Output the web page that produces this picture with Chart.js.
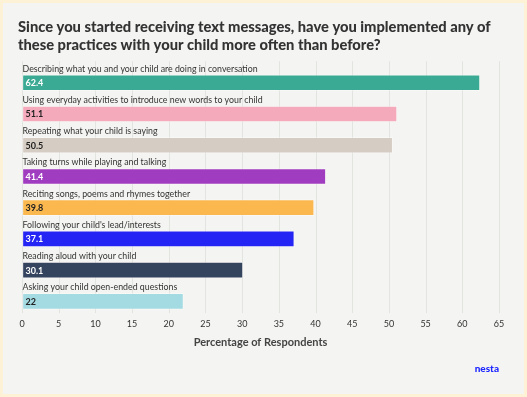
<!DOCTYPE html>
<html>
<head>
<meta charset="utf-8">
<script src="https://cdn.jsdelivr.net/npm/chart.js@4"></script>
<style>
  html, body { margin: 0; padding: 0; background: #fdf2d6; }
  .frame {
    width: 527px; height: 397px; box-sizing: border-box;
    border: 3px solid #fdf2d6; background: #f4f5f2;
  }
  canvas { display: block; }
</style>
</head>
<body>
<div class="frame">
  <canvas id="practiceChart" width="521" height="391"></canvas>
</div>
<script>
// Survey answers, % of respondents
const practices = [
  "Describing what you and your child are doing in conversation",
  "Using everyday activities to introduce new words to your child",
  "Repeating what your child is saying",
  "Taking turns while playing and talking",
  "Reciting songs, poems and rhymes together",
  "Following your child's lead/interests",
  "Reading aloud with your child",
  "Asking your child open-ended questions"
];
const percentages = [62.4, 51.1, 50.5, 41.4, 39.8, 37.1, 30.1, 22];
const barColors = ["#3aaa94", "#f5aabb", "#d5ccc3", "#a03cbf", "#fbb84f", "#2424f5", "#34435e", "#a4dbe3"];
const valueColors = ["#ffffff", "#222222", "#222222", "#ffffff", "#222222", "#ffffff", "#ffffff", "#222222"];
const xTickMin = 0, xTickMax = 65, xTickStep = 5;

const FONT = "Lato, 'Open Sans', sans-serif";

// labels above bars + value inside bars + shifted grid + logo
const barLabels = {
  id: "barLabels",
  beforeDatasetsDraw(chart) {
    const { ctx, chartArea, scales } = chart;
    ctx.save();
    ctx.strokeStyle = "#e2e4e0";
    ctx.lineWidth = 1;
    for (let v = xTickMin; v <= xTickMax; v += xTickStep) {
      const x = Math.round(scales.x.getPixelForValue(v)) + 0.5;
      ctx.beginPath();
      ctx.moveTo(x, chartArea.top - 6);
      ctx.lineTo(x, chartArea.bottom - 4);
      ctx.stroke();
    }
    ctx.restore();
  },
  afterDatasetsDraw(chart) {
    const { ctx } = chart;
    const meta = chart.getDatasetMeta(0);
    ctx.save();
    meta.data.forEach((bar, i) => {
      const top = bar.y - bar.height / 2;
      ctx.font = "8.8px " + FONT;
      ctx.fillStyle = "#333333";
      ctx.textAlign = "left";
      ctx.textBaseline = "alphabetic";
      ctx.fillText(practices[i], bar.base, top - 3);

      ctx.font = "bold 9px " + FONT;
      ctx.fillStyle = valueColors[i];
      ctx.textBaseline = "middle";
      ctx.fillText(String(percentages[i]), bar.base + 3, bar.y + 0.5);
    });

    ctx.font = "900 10px " + FONT;
    ctx.fillStyle = "#1f28ff";
    ctx.textAlign = "right";
    ctx.textBaseline = "middle";
    ctx.fillText("nesta", 496, 366);
    ctx.restore();
  }
};

new Chart(document.getElementById("practiceChart"), {
  type: "bar",
  data: {
    labels: practices,
    datasets: [{
      data: percentages,
      backgroundColor: barColors,
      borderColor: "rgba(255,255,255,0.35)",
      borderWidth: 1,
      borderSkipped: false,
      barThickness: 16
    }]
  },
  options: {
    indexAxis: "y",
    responsive: false,
    animation: false,
    layout: { padding: { top: 15, left: 15, right: 25, bottom: 45 } },
    plugins: {
      legend: { display: false },
      tooltip: { enabled: false },
      title: {
        display: true,
        text: [
          "Since you started receiving text messages, have you implemented any of",
          "these practices with your child more often than before?"
        ],
        align: "start",
        color: "#333333",
        font: { family: FONT, size: 14.7, weight: "900", lineHeight: 1.23 },
        padding: { top: 0, bottom: 13 }
      }
    },
    scales: {
      x: {
        min: xTickMin,
        max: xTickMax,
        ticks: {
          stepSize: xTickStep,
          color: "#333333",
          padding: 2,
          font: { family: FONT, size: 9 }
        },
        grid: { display: true, drawOnChartArea: false, drawTicks: false, color: "rgba(0,0,0,0)" },
        border: { display: false },
        title: {
          display: true,
          text: "Percentage of Respondents",
          color: "#444444",
          font: { family: FONT, size: 11, weight: "bold" },
          padding: { top: 6, bottom: 0 }
        },
        afterFit: (scale) => { scale.height = 32; }
      },
      y: {
        ticks: { display: false },
        grid: { display: false },
        border: { display: false },
        afterFit: (scale) => { scale.width = 4; }
      }
    }
  },
  plugins: [barLabels]
});
</script>
</body>
</html>
